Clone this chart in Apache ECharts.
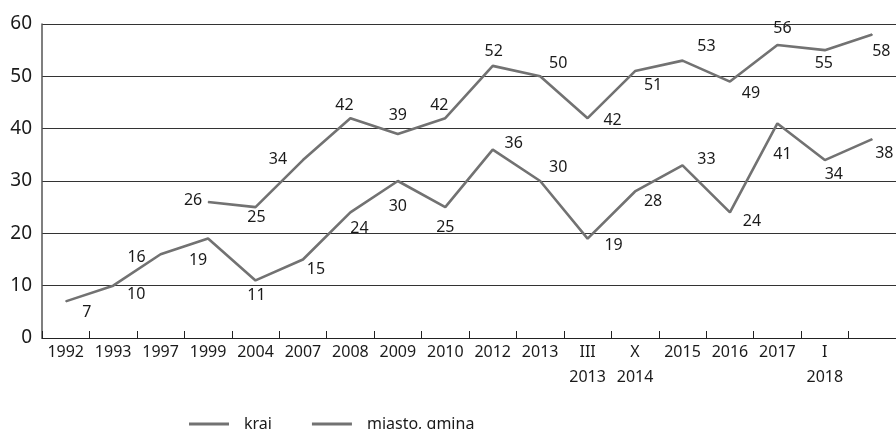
<!DOCTYPE html>
<html>
<head>
<meta charset="utf-8">
<script src="https://cdn.jsdelivr.net/npm/echarts@6/dist/echarts.min.js"></script>
<style>
  html, body { margin: 0; padding: 0; background: #ffffff; }
  #chart { width: 896px; height: 429px; }
</style>
</head>
<body>
<div id="chart"></div>
<script>
// Survey waves along the x axis (last wave has no caption)
const categories = ['1992', '1993', '1997', '1999', '2004', '2007', '2008', '2009', '2010',
  '2012', '2013', 'III\n2013', 'X\n2014', '2015', '2016', '2017', 'I\n2018', ''];

// Percent values per wave
const krajValues = [7, 10, 16, 19, 11, 15, 24, 30, 25, 36, 30, 19, 28, 33, 24, 41, 34, 38];
const miastoValues = [null, null, null, 26, 25, 34, 42, 39, 42, 52, 50, 42, 51, 53, 49, 56, 55, 58];

const yTicks = [0, 10, 20, 30, 40, 50, 60];

// Where each value label sits relative to its point, in pixels [dx, dy]
const krajLabelShift = [[21, 11], [23, 9], [-24, 3], [-10, 22], [1, 15], [13, 10], [9, 16], [0, 25],
  [0, 20], [21, -6], [18, -14], [26, 7], [18, 10], [24, -6], [22, 9], [5, 31], [9, 14], [12, 14]];
const miastoLabelShift = [null, null, null, [-15, -1], [1, 10], [-25, -1], [-6, -13], [0, -18],
  [-6, -13], [1, -14], [18, -13], [25, 2], [18, 14], [24, -14], [21, 12], [5, -16], [-1, 13], [9, 17]];

const LINE_COLOR = '#727272';
const TEXT_COLOR = '#1a1a1a';
const FONT = '"Noto Sans", sans-serif';

function withLabels(values, shifts) {
  return values.map((v, i) => {
    if (v === null) return null;
    const s = shifts[i] || [0, -14];
    return {
      value: v,
      label: { offset: s }
    };
  });
}

function lineSeries(name, values, shifts) {
  return {
    name: name,
    type: 'line',
    data: withLabels(values, shifts),
    symbol: 'circle',
    symbolSize: 1,
    showSymbol: true,
    connectNulls: false,
    lineStyle: { color: LINE_COLOR, width: 2.6 },
    itemStyle: { color: LINE_COLOR },
    label: {
      show: true,
      position: 'inside',
      align: 'center',
      verticalAlign: 'middle',
      color: TEXT_COLOR,
      fontFamily: FONT,
      fontSize: 16
    },
    emphasis: { disabled: true },
    z: 3
  };
}

const chart = echarts.init(document.getElementById('chart'), null, { renderer: 'canvas' });
chart.setOption({
  animation: false,
  backgroundColor: '#ffffff',
  grid: { left: 42, top: 24, width: 860, height: 314, containLabel: false },
  legend: {
    left: 184,
    top: 409,
    itemWidth: 40,
    itemHeight: 3,
    itemGap: 40,
    icon: 'rect',
    textStyle: {
      color: TEXT_COLOR,
      fontFamily: FONT,
      fontSize: 16,
      lineHeight: 20,
      padding: [0, 0, 0, 10]
    },
    data: ['kraj', 'miasto, gmina']
  },
  xAxis: {
    type: 'category',
    data: categories,
    boundaryGap: true,
    axisLine: { show: true, lineStyle: { color: '#222222', width: 1 } },
    axisTick: { show: true, inside: true, length: 7, interval: 0, lineStyle: { color: '#222222' } },
    axisLabel: {
      interval: 0,
      margin: 2,
      color: TEXT_COLOR,
      fontFamily: FONT,
      fontSize: 16,
      lineHeight: 25
    },
    splitLine: { show: false }
  },
  yAxis: {
    type: 'value',
    min: yTicks[0],
    max: yTicks[yTicks.length - 1],
    interval: yTicks[1] - yTicks[0],
    axisLine: { show: true, lineStyle: { color: '#555555', width: 1.5 } },
    axisTick: { show: false },
    axisLabel: {
      margin: 10,
      color: TEXT_COLOR,
      fontFamily: FONT,
      fontSize: 19
    },
    splitLine: { show: true, lineStyle: { color: '#333333', width: 1 } }
  },
  series: [
    lineSeries('kraj', krajValues, krajLabelShift),
    lineSeries('miasto, gmina', miastoValues, miastoLabelShift)
  ]
});
</script>
</body>
</html>
